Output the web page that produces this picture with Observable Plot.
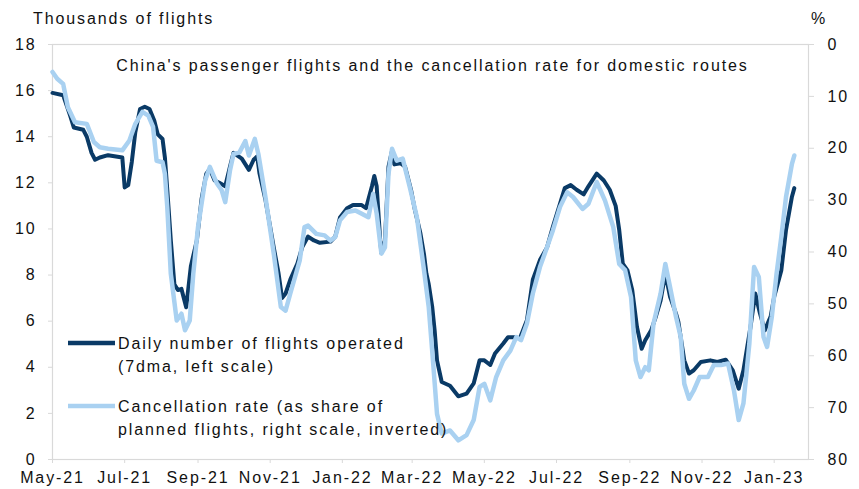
<!DOCTYPE html>
<html>
<head>
<meta charset="utf-8">
<script src="https://cdn.jsdelivr.net/npm/d3@7"></script>
<script src="https://cdn.jsdelivr.net/npm/@observablehq/plot@0.6"></script>
<style>
  html, body { margin: 0; padding: 0; background: #fff; }
  #chart { width: 859px; height: 489px; }
</style>
</head>
<body>
<div id="chart"></div>
<script>
// ---- data ----
const flightDates = ["2021-05-01","2021-05-10","2021-05-12","2021-05-16","2021-05-19","2021-05-27","2021-05-30","2021-06-03","2021-06-06","2021-06-10","2021-06-17","2021-06-29","2021-07-01","2021-07-04","2021-07-07","2021-07-10","2021-07-14","2021-07-18","2021-07-22","2021-07-26","2021-07-29","2021-08-02","2021-08-04","2021-08-06","2021-08-09","2021-08-12","2021-08-15","2021-08-18","2021-08-21","2021-08-22","2021-08-26","2021-08-31","2021-09-04","2021-09-08","2021-09-11","2021-09-15","2021-09-19","2021-09-24","2021-09-28","2021-10-01","2021-10-08","2021-10-14","2021-10-18","2021-10-21","2021-10-23","2021-10-28","2021-11-04","2021-11-08","2021-11-11","2021-11-14","2021-11-18","2021-11-24","2021-11-28","2021-12-03","2021-12-08","2021-12-13","2021-12-22","2021-12-26","2021-12-30","2022-01-05","2022-01-10","2022-01-17","2022-01-21","2022-01-26","2022-01-28","2022-01-30","2022-02-02","2022-02-03","2022-02-06","2022-02-09","2022-02-12","2022-02-14","2022-02-19","2022-02-23","2022-02-26","2022-02-28","2022-03-03","2022-03-08","2022-03-11","2022-03-13","2022-03-15","2022-03-18","2022-03-20","2022-03-22","2022-03-26","2022-04-02","2022-04-09","2022-04-16","2022-04-22","2022-04-27","2022-05-01","2022-05-06","2022-05-10","2022-05-17","2022-05-21","2022-05-27","2022-05-31","2022-06-06","2022-06-11","2022-06-17","2022-06-23","2022-06-28","2022-07-04","2022-07-08","2022-07-13","2022-07-18","2022-07-24","2022-07-28","2022-08-04","2022-08-10","2022-08-15","2022-08-20","2022-08-23","2022-08-26","2022-08-30","2022-09-03","2022-09-07","2022-09-11","2022-09-14","2022-09-19","2022-09-23","2022-09-27","2022-10-01","2022-10-05","2022-10-10","2022-10-12","2022-10-17","2022-10-21","2022-10-25","2022-10-31","2022-11-08","2022-11-14","2022-11-21","2022-11-27","2022-12-02","2022-12-06","2022-12-12","2022-12-16","2022-12-20","2022-12-24","2022-12-29","2023-01-01","2023-01-07","2023-01-11","2023-01-16","2023-01-18"];
const flightValues = [15.9,15.8,15.5,14.9,14.4,14.3,14.0,13.3,13.0,13.1,13.2,13.1,11.8,11.9,12.9,14.2,15.2,15.3,15.2,14.7,14.1,13.9,13.1,11.7,9.5,7.6,7.35,7.4,6.8,6.6,8.4,9.5,11.3,12.4,12.6,12.1,12.0,11.85,12.7,13.3,13.05,12.56,13.0,13.15,12.4,11.26,9.2,8.1,7.0,7.2,7.8,8.5,9.2,9.67,9.5,9.4,9.45,9.67,10.5,10.9,11.04,11.04,10.9,11.85,12.3,11.85,9.5,8.95,9.5,12.7,13.4,12.8,12.85,12.7,12.1,11.7,10.9,9.8,8.9,8.07,7.6,6.6,5.6,4.3,3.36,3.2,2.74,2.86,3.3,4.3,4.3,4.1,4.6,5.03,5.3,5.3,5.25,6.04,7.8,8.65,9.2,10.1,11.1,11.77,11.9,11.7,11.5,11.85,12.4,12.1,11.7,11.0,9.96,8.5,8.2,7.35,5.75,4.8,5.17,5.6,6.2,6.9,8.07,7.06,6.33,5.97,4.3,3.73,3.87,4.23,4.3,4.23,4.33,3.87,3.07,3.87,5.75,7.2,6.33,5.6,6.2,7.06,8.2,9.96,11.4,11.77];

const cancelDates = ["2021-05-01","2021-05-05","2021-05-10","2021-05-14","2021-05-20","2021-05-30","2021-06-05","2021-06-10","2021-06-17","2021-06-29","2021-07-05","2021-07-10","2021-07-16","2021-07-21","2021-07-25","2021-07-28","2021-08-02","2021-08-04","2021-08-06","2021-08-09","2021-08-14","2021-08-18","2021-08-21","2021-08-25","2021-08-28","2021-09-01","2021-09-07","2021-09-11","2021-09-17","2021-09-21","2021-09-24","2021-09-28","2021-10-01","2021-10-06","2021-10-11","2021-10-14","2021-10-19","2021-10-22","2021-10-28","2021-11-04","2021-11-10","2021-11-14","2021-11-18","2021-11-26","2021-11-30","2021-12-03","2021-12-10","2021-12-17","2021-12-22","2021-12-26","2021-12-30","2022-01-05","2022-01-12","2022-01-17","2022-01-23","2022-01-27","2022-01-30","2022-02-03","2022-02-06","2022-02-09","2022-02-12","2022-02-16","2022-02-21","2022-02-27","2022-03-05","2022-03-11","2022-03-15","2022-03-19","2022-03-22","2022-03-26","2022-04-02","2022-04-09","2022-04-16","2022-04-22","2022-04-27","2022-05-01","2022-05-06","2022-05-11","2022-05-17","2022-05-23","2022-05-28","2022-06-01","2022-06-06","2022-06-11","2022-06-17","2022-06-23","2022-06-28","2022-07-04","2022-07-10","2022-07-15","2022-07-23","2022-07-28","2022-08-04","2022-08-11","2022-08-18","2022-08-23","2022-08-28","2022-09-02","2022-09-06","2022-09-10","2022-09-14","2022-09-17","2022-09-21","2022-09-27","2022-10-01","2022-10-05","2022-10-10","2022-10-14","2022-10-17","2022-10-21","2022-10-25","2022-10-30","2022-11-06","2022-11-11","2022-11-17","2022-11-23","2022-11-28","2022-12-02","2022-12-06","2022-12-11","2022-12-15","2022-12-19","2022-12-23","2022-12-26","2022-12-30","2023-01-03","2023-01-07","2023-01-11","2023-01-16","2023-01-18"];
const cancelValues = [5.3,6.6,7.6,12.1,15.0,15.3,18.8,19.8,20.1,20.4,18.5,15.3,13.0,13.7,15.9,22.4,22.7,24.9,31.3,44.2,53.2,51.9,55.1,53.2,44.2,35.2,26.2,23.6,26.8,28.1,30.4,24.3,21.1,20.8,18.6,21.4,18.2,21.1,29.4,40.3,50.6,51.3,48.0,41.6,35.2,34.9,36.5,36.8,37.8,37.1,33.9,32.3,32.0,32.6,33.3,28.8,32.6,40.3,39.1,24.9,20.1,22.4,22.0,27.5,33.3,43.5,50.6,62.2,71.2,75.0,74.4,76.3,75.3,72.4,66.0,65.4,68.6,64.1,60.9,59.0,56.4,57.0,53.8,48.0,42.9,39.1,35.8,31.3,28.5,29.4,31.7,30.7,26.5,30.1,35.2,42.3,43.5,48.7,60.9,64.1,62.2,62.8,53.8,48.0,42.3,46.8,52.5,56.4,65.4,68.3,66.7,64.1,64.1,61.8,61.8,61.5,66.7,72.4,69.2,57.7,42.9,44.8,56.4,58.3,52.5,44.2,37.1,29.4,23.0,21.4];

const leftTicks = [0,2,4,6,8,10,12,14,16,18];
const rightTicks = [0,10,20,30,40,50,60,70,80];
const xTickDates = ["2021-05-01","2021-07-01","2021-09-01","2021-11-01","2022-01-01","2022-03-01","2022-05-01","2022-07-01","2022-09-01","2022-11-01","2023-01-01"];

const titleText = "China's passenger flights and the cancellation rate for domestic routes";
const leftLabel = "Thousands of flights";
const rightLabel = "%";
const legendItems = [
  {lines: ["Daily number of flights operated", "(7dma, left scale)"], color: "#0a3a66"},
  {lines: ["Cancellation rate (as share of", "planned flights, right scale, inverted)"], color: "#a9d1f1"}
];

// ---- build ----
const LEFT_MAX = 18, RIGHT_MAX = 80;
const toLeft = c => LEFT_MAX - c * LEFT_MAX / RIGHT_MAX;   // inverted right scale mapped onto left
const fromLeft = v => (LEFT_MAX - v) * RIGHT_MAX / LEFT_MAX;

const flights = flightDates.map((d, i) => ({date: new Date(d), value: flightValues[i]}));
const cancels = cancelDates.map((d, i) => ({date: new Date(d), value: cancelValues[i]}));

const textColor = "#111";
const gridGrey = "#d9d9d9";
const fontStyle = {fontFamily: "'Liberation Sans', Arial, sans-serif", fontSize: "16px", color: textColor, background: "#fff", letterSpacing: "1.9px"};

const plot = Plot.plot({
  width: 859,
  height: 489,
  marginLeft: 52,
  marginRight: 51,
  marginTop: 44,
  marginBottom: 30,
  style: fontStyle,
  x: {type: "utc", domain: [new Date("2021-05-01"), new Date("2023-01-30")]},
  y: {domain: [0, LEFT_MAX]},
  marks: [
    Plot.frame({stroke: gridGrey, strokeWidth: 1.2}),
    Plot.axisX({ticks: xTickDates.map(d => new Date(d)), tickFormat: d3.utcFormat("%b-%y"), tickSize: 4, tickPadding: 8, stroke: gridGrey, fill: textColor, label: null}),
    Plot.axisY({anchor: "left", ticks: leftTicks, tickSize: 4, tickPadding: 12, stroke: gridGrey, fill: textColor, label: null}),
    Plot.axisY({anchor: "right", ticks: rightTicks.map(toLeft), tickFormat: v => String(Math.round(fromLeft(v))), tickSize: 5, tickPadding: 14, stroke: gridGrey, fill: textColor, label: null}),
    Plot.line(flights, {x: "date", y: "value", stroke: legendItems[0].color, strokeWidth: 4, strokeLinejoin: "round", strokeLinecap: "round"}),
    Plot.line(cancels, {x: "date", y: d => toLeft(d.value), stroke: legendItems[1].color, strokeWidth: 4.5, strokeLinejoin: "round", strokeLinecap: "round"}),
    Plot.text([titleText], {frameAnchor: "top", dy: 15, dx: 2, fill: textColor, fontSize: 16})
  ]
});

const svg = d3.select(plot);
svg.append("text").attr("x", 33).attr("y", 24).attr("text-anchor", "start").attr("fill", textColor).text(leftLabel);
svg.append("text").attr("x", 811).attr("y", 24).attr("text-anchor", "start").attr("fill", textColor).text(rightLabel);

const legend = svg.append("g").attr("text-anchor", "start");
const legendTop = [343, 406];
legendItems.forEach((item, i) => {
  const y0 = legendTop[i];
  legend.append("line").attr("x1", 68).attr("x2", 115).attr("y1", y0).attr("y2", y0)
    .attr("stroke", item.color).attr("stroke-width", 4.5);
  item.lines.forEach((ln, j) => {
    legend.append("text").attr("x", 118).attr("y", y0 + j * 23).attr("dy", "0.35em").attr("fill", textColor).text(ln);
  });
});

document.getElementById("chart").appendChild(plot);
</script>
</body>
</html>
